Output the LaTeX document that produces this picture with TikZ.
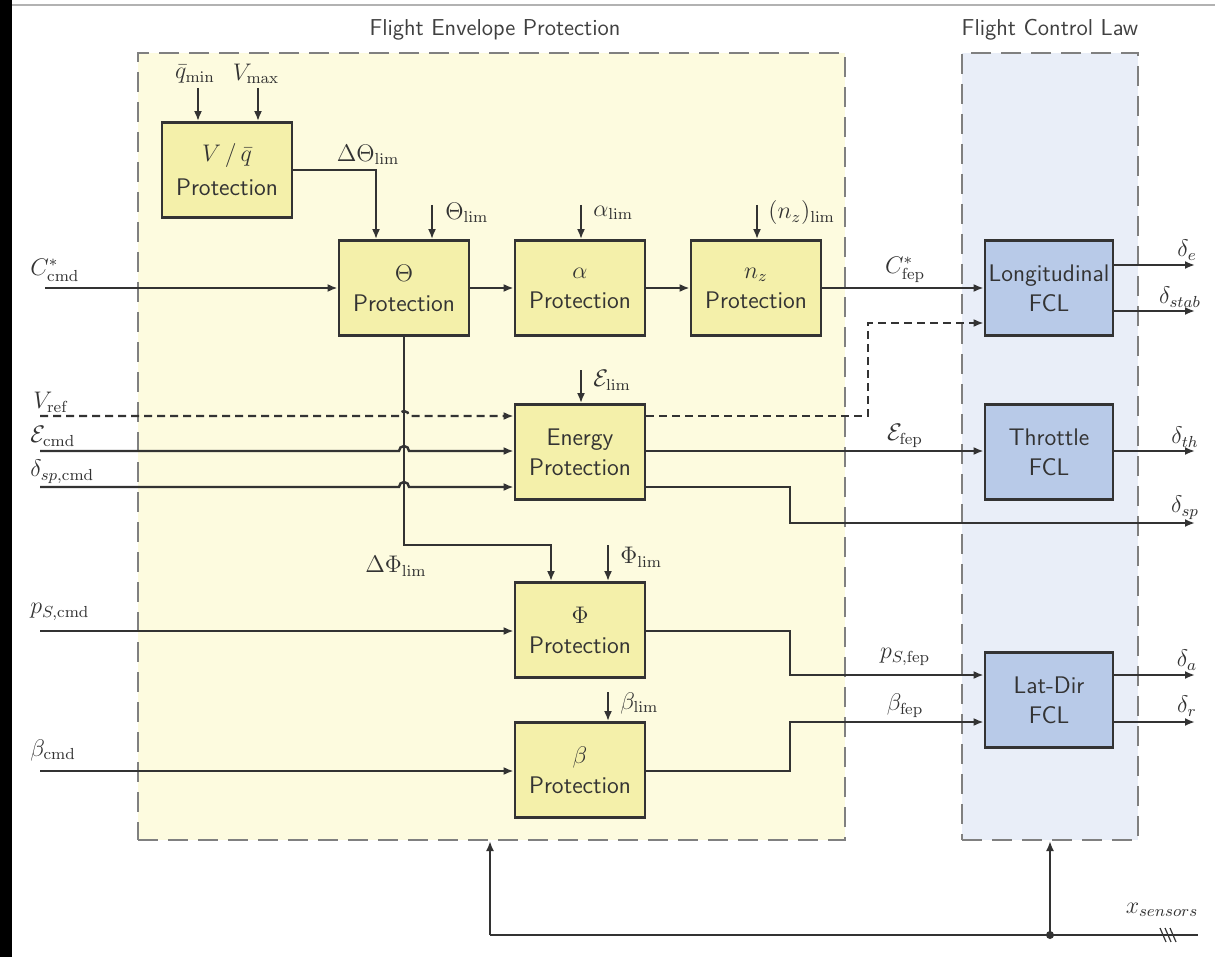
\documentclass[tikz,border=0pt]{standalone}
\usetikzlibrary{arrows.meta,calc}
\definecolor{regY}{HTML}{FDFBDF}
\definecolor{boxY}{HTML}{F4F0AA}
\definecolor{regB}{HTML}{E9EEF8}
\definecolor{boxB}{HTML}{B8CAE8}
\definecolor{edge}{HTML}{333333}
\tikzset{
 fblock/.style={draw=edge, line width=1.4pt, fill=boxY, minimum width=65pt, minimum height=47.5pt, align=center, inner sep=0pt, font=\fontsize{12}{15}\selectfont\sffamily, text=black!80},
 bblock/.style={fblock, fill=boxB, minimum width=64pt},
 region/.style={draw=gray, line width=1pt, dash pattern=on 10pt off 5pt, inner sep=0pt},
 arr/.style={-{Latex[length=5pt,width=4pt]}, line width=1.2pt, draw=edge},
 wire/.style={line width=1.2pt, draw=edge},
 dsh/.style={dash pattern=on 4pt off 2.5pt},
 lbl/.style={font=\fontsize{12}{14}\selectfont, text=black!80, inner sep=1pt},
 ttl/.style={font=\fontsize{11.5}{14}\selectfont\sffamily, text=black!75},
}
\begin{document}
\begin{tikzpicture}[x=0.5pt,y=-0.5pt]
\useasboundingbox (0,0) rectangle (1215,957);
\fill[black] (0,0) rectangle (12,957);
\draw[gray!60,line width=0.8pt] (12,5) -- (1215,5);
% regions
\node[region,fill=regY,minimum width=353.5pt,minimum height=393.5pt] (fep) at (491.5,446.5) {};
\node[region,fill=regB,minimum width=88pt,minimum height=393.5pt] (fcl) at (1050,446.5) {};
\node[ttl] (tfep) at (495,30) {Flight Envelope Protection};
\node[ttl] (tfcl) at (1050,30) {Flight Control Law};
% blocks
\node[fblock] (VQ) at (227,170) {$V\,/\,\bar q$\\[2pt]Protection};
\node[fblock] (Th) at (404,288) {$\Theta$\\Protection};
\node[fblock] (Al) at (580,288) {$\alpha$\\Protection};
\node[fblock] (Nz) at (756,288) {$n_z$\\Protection};
\node[fblock] (En) at (580,452) {Energy\\Protection};
\node[fblock] (Ph) at (580,630) {$\Phi$\\Protection};
\node[fblock] (Be) at (580,770) {$\beta$\\Protection};
\node[bblock] (Lo) at (1049,288) {Longitudinal\\FCL};
\node[bblock] (Tr) at (1049,452) {Throttle\\FCL};
\node[bblock] (LD) at (1049,700) {Lat-Dir\\FCL};
% coordinates
\coordinate (iC) at (45,288);
\coordinate (iV) at (40,416);
\coordinate (iE) at (40,451);
\coordinate (iS) at (40,487);
\coordinate (iP) at (40,631);
\coordinate (iB) at (40,771);
\coordinate (oE) at (1195,265);
\coordinate (oSt) at (1195,311);
\coordinate (oTh) at (1195,451);
\coordinate (oS) at (1195,523);
\coordinate (oA) at (1195,675);
\coordinate (oR) at (1195,722);
\coordinate (kS) at (790,523);
\coordinate (kP) at (790,675);
\coordinate (kB) at (790,722);
\coordinate (dk) at (868,323);
\coordinate (kDT) at (376,170);
\coordinate (kDP) at (551,545);
\coordinate (aQ) at (198,88);
\coordinate (aV) at (258,88);
\coordinate (aTh) at (432,205);
\coordinate (aAl) at (581,205);
\coordinate (aNz) at (757,205);
\coordinate (aEn) at (581,370);
\coordinate (aPh) at (608,545);
\coordinate (aBe) at (608,692);
\coordinate (s1) at (490,935);
\coordinate (s2) at (1050,935);
\coordinate (s3) at (1198,935);
% top arrows
\draw[arr] (aQ) -- (aQ |- VQ.north);
\draw[arr] (aV) -- (aV |- VQ.north);
\draw[arr] (aTh) -- (aTh |- Th.north);
\draw[arr] (aAl) -- (aAl |- Al.north);
\draw[arr] (aNz) -- (aNz |- Nz.north);
\draw[arr] (aEn) -- (aEn |- En.north);
\draw[arr] (aPh) -- (aPh |- Ph.north);
\draw[arr] (aBe) -- (aBe |- Be.north);
\draw[arr] (VQ.east) -- (kDT) -- (kDT |- Th.north);
% longitudinal chain
\draw[arr] (iC) -- (Th.west);
\draw[arr] (Th.east) -- (Al.west);
\draw[arr] (Al.east) -- (Nz.west);
\draw[arr] (Nz.east) -- (Lo.west);
\draw[arr] (Lo.east |- oE) -- (oE);
\draw[arr] (Lo.east |- oSt) -- (oSt);
% theta down to phi
\draw[arr] (Th.south) |- (kDP) -- (kDP |- Ph.north);
% energy inputs with hops
\draw[arr,dsh] (iV) -- ($(Th.south |- iV)+(-5,0)$) arc[start angle=180,end angle=0,radius=2.5pt] -- (En.west |- iV);
\draw[arr] (iE) -- ($(Th.south |- iE)+(-5,0)$) arc[start angle=180,end angle=0,radius=2.5pt] -- (En.west |- iE);
\draw[arr] (iS) -- ($(Th.south |- iS)+(-5,0)$) arc[start angle=180,end angle=0,radius=2.5pt] -- (En.west |- iS);
% energy outputs
\draw[arr,dsh] (En.east |- iV) -| (dk) -- (Lo.west |- dk);
\draw[arr] (En.east |- iE) -- (Tr.west |- iE);
\draw[arr] (En.east |- iS) -| (kS) -- (oS);
\draw[arr] (Tr.east |- oTh) -- (oTh);
% lateral
\draw[arr] (iP) -- (Ph.west |- iP);
\draw[arr] (iB) -- (Be.west |- iB);
\draw[arr] (Ph.east |- iP) -| (kP) -- (LD.west |- kP);
\draw[arr] (Be.east |- iB) -| (kB) -- (LD.west |- kB);
\draw[arr] (LD.east |- oA) -- (oA);
\draw[arr] (LD.east |- oR) -- (oR);
% sensors
\draw[wire] (s1) -- (s3);
\draw[arr] (s1) -- (s1 |- fep.south);
\draw[arr] (s2) -- (s2 |- fcl.south);
\fill[edge] (s2) circle (2pt);
\draw[edge,line width=0.6pt] (1160,928) -- (1166,942) (1165,928) -- (1171,942) (1170,928) -- (1176,942);
% labels
\node[lbl] (lq) at (195,74) {$\bar q_{\min}$};
\node[lbl] (lv) at (256,74) {$V_{\max}$};
\node[lbl] (ldt) at (368,155) {$\Delta\Theta_{\mathrm{lim}}$};
\node[lbl,anchor=west] (lth) at (443,213) {$\Theta_{\mathrm{lim}}$};
\node[lbl,anchor=west] (lal) at (591,213) {$\alpha_{\mathrm{lim}}$};
\node[lbl,anchor=west] (lnz) at (766,213) {$(n_z)_{\mathrm{lim}}$};
\node[lbl,anchor=west] (len) at (591,380) {$\mathcal{E}_{\mathrm{lim}}$};
\node[lbl,anchor=west] (lph) at (618,557) {$\Phi_{\mathrm{lim}}$};
\node[lbl,anchor=west] (lbe) at (618,703) {$\beta_{\mathrm{lim}}$};
\node[lbl] (ldp) at (396,566) {$\Delta\Phi_{\mathrm{lim}}$};
\node[lbl,anchor=west] (lC) at (28,270) {$C^*_{\mathrm{cmd}}$};
\node[lbl,anchor=west] (lV) at (31,402) {$V_{\mathrm{ref}}$};
\node[lbl,anchor=west] (lE) at (28,436) {$\mathcal{E}_{\mathrm{cmd}}$};
\node[lbl,anchor=west] (lS) at (28,472) {$\delta_{sp,\mathrm{cmd}}$};
\node[lbl,anchor=west] (lP) at (28,612) {$p_{S,\mathrm{cmd}}$};
\node[lbl,anchor=west] (lB) at (28,750) {$\beta_{\mathrm{cmd}}$};
\node[lbl] (lCf) at (905,270) {$C^*_{\mathrm{fep}}$};
\node[lbl] (lEf) at (905,436) {$\mathcal{E}_{\mathrm{fep}}$};
\node[lbl] (lPf) at (905,657) {$p_{S,\mathrm{fep}}$};
\node[lbl] (lBf) at (905,706) {$\beta_{\mathrm{fep}}$};
\node[lbl] (lde) at (1187,250) {$\delta_e$};
\node[lbl] (ldst) at (1180,297) {$\delta_{stab}$};
\node[lbl] (ldth) at (1185,437) {$\delta_{th}$};
\node[lbl] (ldsp) at (1185,508) {$\delta_{sp}$};
\node[lbl] (lda) at (1187,660) {$\delta_a$};
\node[lbl] (ldr) at (1187,706) {$\delta_r$};
\node[lbl] (lxs) at (1162,910) {$x_{sensors}$};
\end{tikzpicture}
\end{document}
